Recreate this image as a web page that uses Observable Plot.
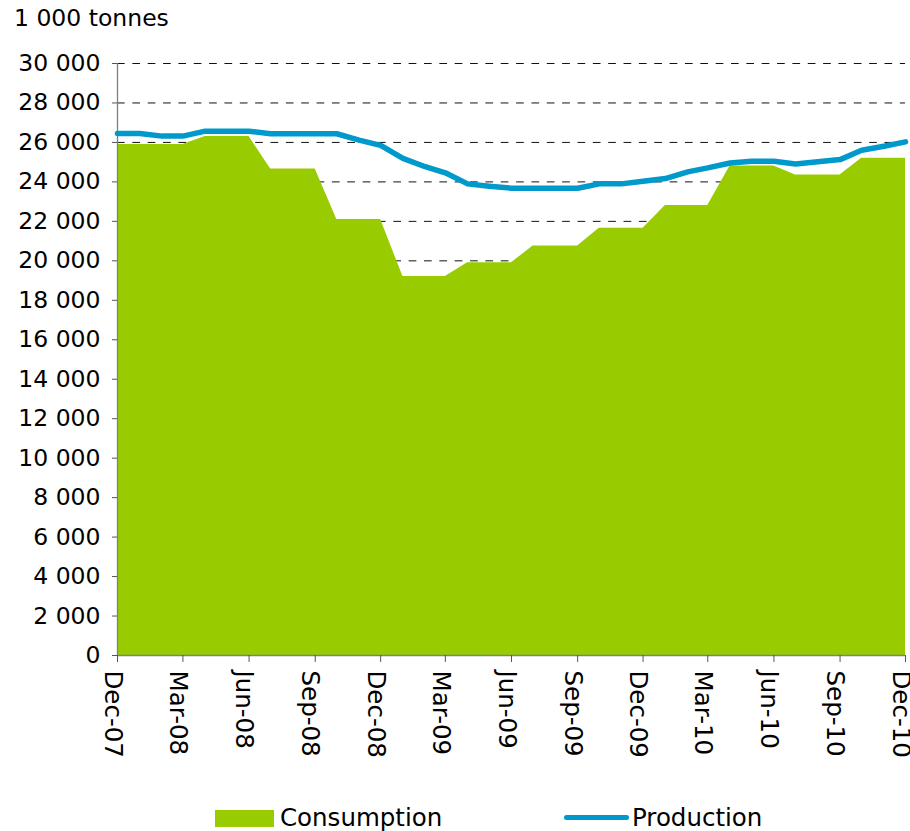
<!DOCTYPE html>
<html>
<head>
<meta charset="utf-8">
<script src="https://cdn.jsdelivr.net/npm/d3@7"></script>
<script src="https://cdn.jsdelivr.net/npm/@observablehq/plot@0.6"></script>
<style>
  html, body { margin: 0; padding: 0; background: #fff; }
  body { font-family: "DejaVu Sans", Verdana, sans-serif; color: #000; }
  #wrap { position: relative; width: 910px; height: 831px; overflow: hidden; }
  #title { position: relative; height: 40px; }
  #title span { position: absolute; left: 14px; top: 4px; font-size: 23.5px; line-height: normal; white-space: nowrap; }
  #chart svg { display: block; }
  #legend { position: relative; height: 31px; font-size: 24.5px; }
  #legend .sw { position: absolute; }
  #legend .lab { position: absolute; top: 3px; line-height: normal; white-space: nowrap; }
</style>
</head>
<body>
<div id="wrap">
  <div id="title"><span>1 000 tonnes</span></div>
  <div id="chart"></div>
  <div id="legend"></div>
</div>
<script>
// ---- data (monthly, Dec-07 .. Dec-10) ----
const startYear = 2007;
const startMonth = 11; // December (0-based)
const consumption = [
  25900, 25900, 25900, 25900,
  26300, 26300, 26300,
  24650, 24650, 24650,
  22100, 22100, 22100,
  19200, 19200, 19200,
  19900, 19900, 19900,
  20750, 20750, 20750,
  21650, 21650, 21650,
  22800, 22800, 22800,
  24800, 24800, 24800,
  24350, 24350, 24350,
  25200, 25200, 25200
];
const production = [
  26450,
  26450, 26320, 26320, 26570, 26570, 26570, 26440, 26440, 26440, 26440, 26120, 25850,
  25190, 24770, 24460, 23900, 23780, 23680, 23680, 23680, 23680, 23900, 23900, 24030,
  24170, 24510, 24710, 24960, 25050, 25050, 24910, 25020, 25130, 25600, 25810, 26030
];
const xTickLabels = ["Dec-07","Mar-08","Jun-08","Sep-08","Dec-08","Mar-09","Jun-09","Sep-09","Dec-09","Mar-10","Jun-10","Sep-10","Dec-10"];
const yTicks = [0, 2000, 4000, 6000, 8000, 10000, 12000, 14000, 16000, 18000, 20000, 22000, 24000, 26000, 28000, 30000];
const seriesNames = ["Consumption", "Production"];
const colors = ["#99CC00", "#0099CC"];

// ---- build table ----
const dates = consumption.map((_, i) => new Date(Date.UTC(startYear, startMonth + i, 1)));
const data = dates.map((date, i) => ({date, consumption: consumption[i], production: production[i]}));
const xTicks = dates.filter((_, i) => i % 3 === 0);
const labelOf = new Map(xTicks.map((d, i) => [+d, xTickLabels[i]]));
const fmtY = d => String(d).replace(/\B(?=(\d{3})+(?!\d))/g, " ");

const chart = Plot.plot({
  width: 910,
  height: 760,
  marginLeft: 117,
  marginRight: 5,
  marginTop: 23,
  marginBottom: 145,
  style: {fontFamily: "'DejaVu Sans', Verdana, sans-serif", fontSize: "23.5px", color: "#000", background: "#fff"},
  x: {type: "utc", domain: [dates[0], dates[dates.length - 1]]},
  y: {domain: [0, 30000]},
  marks: [
    Plot.ruleY(yTicks.filter(d => d > 0), {y: d => d, stroke: "#111", strokeWidth: 1, strokeDasharray: "7.7,7.65"}),
    Plot.areaY(data, {x: "date", y: "consumption", fill: colors[0], curve: "linear"}),
    Plot.ruleX([dates[0]], {stroke: "#808080", strokeWidth: 1.3}),
    Plot.ruleY([0], {stroke: "#808080", strokeWidth: 1.3}),
    Plot.lineY(data, {x: "date", y: "production", stroke: colors[1], strokeWidth: 5.5, strokeLinecap: "round", strokeLinejoin: "round", curve: "linear"}),
    Plot.axisY({ticks: yTicks, tickSize: 5, tickPadding: 12, tickFormat: fmtY, label: null, stroke: "#555"}),
    Plot.axisX({ticks: xTicks, tickSize: 7, tickFormat: () => "", label: null, stroke: "#555"}),
    Plot.axisX({ticks: xTicks, tickSize: 0, tickPadding: 15, tickRotate: 90, dx: -5, fontSize: 24.5, tickFormat: d => labelOf.get(+d), label: null})
  ]
});
document.getElementById("chart").appendChild(chart);

// ---- legend ----
const legend = document.getElementById("legend");
legend.innerHTML = `
  <div class="sw" style="left:215px; top:10px; width:59px; height:17px; background:${colors[0]};"></div>
  <div class="lab" style="left:280px;">${seriesNames[0]}</div>
  <div class="sw" style="left:564px; top:15px; width:65px; height:5px; border-radius:3px; background:${colors[1]};"></div>
  <div class="lab" style="left:632px;">${seriesNames[1]}</div>
`;
</script>
</body>
</html>
